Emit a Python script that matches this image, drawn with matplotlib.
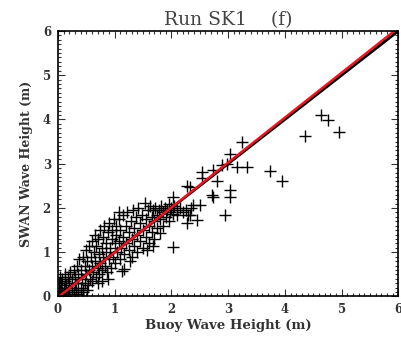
import matplotlib
matplotlib.use("Agg")
import matplotlib.pyplot as plt
from matplotlib.ticker import MultipleLocator

title = "Run SK1    (f)"
xlabel = "Buoy Wave Height (m)"
ylabel = "SWAN Wave Height (m)"
ticks = [0, 1, 2, 3, 4, 5, 6]

buoy = [0.02, 0.03, 0.05, 0.05, 0.08, 0.08, 0.10, 0.10, 0.12, 0.12, 0.15, 0.15, 0.18, 0.18, 0.20, 0.20,
        0.22, 0.25, 0.25, 0.28, 0.28, 0.30, 0.30, 0.02, 0.04, 0.06, 0.14,
        0.32, 0.33, 0.35, 0.35, 0.38, 0.40, 0.40, 0.42, 0.45, 0.45, 0.47, 0.48, 0.50, 0.50, 0.52, 0.53,
        0.55, 0.55, 0.57, 0.58, 0.60, 0.60, 0.60, 0.36, 0.44, 0.52,
        0.62, 0.63, 0.65, 0.65, 0.67, 0.68, 0.70, 0.70, 0.72, 0.73, 0.75, 0.75, 0.77, 0.78, 0.80, 0.80,
        0.82, 0.83, 0.85, 0.85, 0.87, 0.88, 0.90, 0.90, 0.92, 0.93, 0.95, 0.95, 0.97, 0.98, 1.00, 1.00,
        0.70, 0.77, 0.88,
        1.02, 1.03, 1.05, 1.07, 1.08, 1.10, 1.10, 1.12, 1.15, 1.15, 1.17, 1.20, 1.20, 1.22, 1.25, 1.25,
        1.28, 1.30, 1.30, 1.32, 1.35, 1.35, 1.38, 1.40, 1.40, 1.42, 1.45, 1.45, 1.48, 1.50, 1.50,
        1.08, 1.13, 1.17, 1.27,
        1.53, 1.55, 1.55, 1.58, 1.60, 1.60, 1.62, 1.65, 1.65, 1.68, 1.70, 1.70, 1.72, 1.75, 1.75, 1.78,
        1.80, 1.80, 1.82, 1.85, 1.85, 1.88, 1.90, 1.92, 1.95, 1.95, 1.98, 2.00, 2.03, 2.02, 2.05, 2.10,
        2.10, 2.15, 2.20, 2.25, 2.27, 2.30, 2.33, 2.35, 2.38, 2.50, 2.33, 2.45, 2.27, 2.03, 1.57, 1.67,
        2.54, 2.54, 2.73, 2.89, 2.80, 2.73, 2.72, 2.95, 3.03, 3.03, 3.03, 2.98, 3.16, 3.33, 3.24,
        3.74, 3.95, 4.36, 4.64, 4.76, 4.96]
swan = [0.05, 0.15, 0.30, 0.00, 0.10, 0.40, 0.20, 0.05, 0.35, 0.50, 0.10, 0.25, 0.45, 0.15, 0.30, 0.05,
        0.55, 0.20, 0.40, 0.10, 0.60, 0.30, 0.45, 0.30, 0.45, 0.20, 0.00,
        0.15, 0.70, 0.50, 0.30, 0.85, 0.20, 0.60, 0.40, 0.90, 0.15, 0.70, 0.30, 0.50, 1.05, 0.80, 0.25,
        0.60, 1.15, 0.40, 0.90, 0.70, 0.35, 1.25, 0.05, 0.10, 0.15,
        0.55, 1.00, 0.80, 1.40, 0.45, 1.15, 0.65, 1.30, 0.95, 0.50, 1.50, 0.75, 1.10, 0.60, 1.35, 0.90,
        1.60, 0.70, 1.20, 1.00, 0.55, 1.45, 0.85, 1.65, 1.10, 0.65, 1.30, 1.50, 0.90, 1.75, 1.20, 0.75,
        0.30, 0.35, 0.40,
        1.40, 1.60, 1.00, 1.25, 1.75, 0.85, 1.50, 1.10, 1.85, 1.35, 0.95, 1.60, 1.20, 1.90, 1.45, 1.05,
        1.70, 1.30, 0.90, 1.95, 1.55, 1.15, 1.80, 1.40, 1.00, 2.00, 1.65, 1.25, 1.85, 1.50, 1.10,
        1.92, 0.57, 0.62, 0.80,
        2.12, 1.75, 1.35, 1.95, 1.60, 1.20, 2.05, 1.80, 1.45, 1.95, 1.70, 1.30, 2.00, 1.85, 1.55, 1.95,
        1.43, 1.75, 2.05, 1.90, 1.60, 2.00, 1.80, 1.95, 2.10, 1.70, 1.90, 2.00, 1.87, 1.11, 2.05, 1.95,
        1.85, 2.00, 1.90, 1.95, 2.49, 1.85, 2.47, 2.00, 2.06, 2.06, 1.83, 1.72, 1.67, 2.24, 1.05, 1.15,
        2.81, 2.67, 2.85, 2.96, 2.62, 2.24, 2.30, 1.83, 3.23, 2.40, 2.24, 3.00, 2.92, 2.92, 3.48,
        2.83, 2.60, 3.62, 4.10, 3.98, 3.71]

line_x = [0, 6]
one_to_one = [0, 6]
fit_y = [-0.02, 6.07]

fig = plt.figure(figsize=(4.02, 3.40), dpi=100)
ax = fig.add_axes([0.144, 0.128, 0.847, 0.781])

ax.plot(buoy, swan, linestyle="none", marker="+", color="black", markersize=9, markeredgewidth=1.0)
ax.plot(line_x, one_to_one, color="black", linewidth=2.0)
ax.plot(line_x, fit_y, color="#e8141e", linewidth=1.8)

ax.set_xlim(0, 6)
ax.set_ylim(0, 6)
ax.set_xticks(ticks)
ax.set_yticks(ticks)
ax.xaxis.set_minor_locator(MultipleLocator(0.1))
ax.yaxis.set_minor_locator(MultipleLocator(0.1))
ax.tick_params(which="both", direction="in", top=True, right=True, width=0.8, color="#333333")
ax.tick_params(which="major", length=5, labelsize=8.5, pad=5)
ax.tick_params(which="minor", length=2.5)
for lab in ax.get_xticklabels() + ax.get_yticklabels():
    lab.set_family("DejaVu Serif")
    lab.set_fontweight("bold")
    lab.set_color("#333333")
for s in ax.spines.values():
    s.set_linewidth(1.2)

ax.set_title(title, family="DejaVu Serif", fontsize=13.5, color="#444444", pad=4)
ax.set_xlabel(xlabel, family="DejaVu Serif", fontsize=9.5, fontweight="bold", color="#333333", labelpad=2)
ax.set_ylabel(ylabel, family="DejaVu Serif", fontsize=9, fontweight="bold", color="#333333", labelpad=7)

fig.savefig("out.png", dpi=100)
